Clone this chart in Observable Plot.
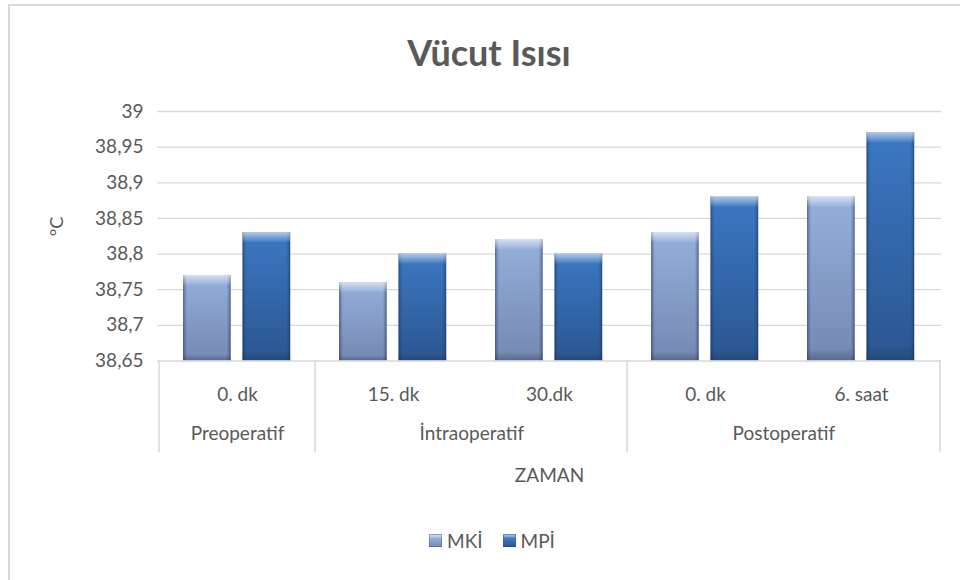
<!DOCTYPE html>
<html><head><meta charset="utf-8">
<script src="https://cdn.jsdelivr.net/npm/d3@7"></script>
<script src="https://cdn.jsdelivr.net/npm/@observablehq/plot@0.6"></script>
<style>
html,body{margin:0;padding:0;background:#fff;width:960px;height:580px;overflow:hidden;font-family:Lato,"Open Sans",sans-serif;}
#frame{position:absolute;left:8px;top:4px;width:1000px;height:620px;border:2px solid #d9d9d9;box-sizing:border-box;}
#title{position:absolute;left:0;width:978px;top:34px;text-align:center;font:700 36px/36px Lato,sans-serif;color:#595959;}
#chart{position:absolute;left:0;top:90px;}
#legend{position:absolute;left:429px;top:531px;display:flex;align-items:center;font:400 19px/19px Lato,sans-serif;color:#595959;}
#legend .item{display:flex;align-items:center;margin-right:20px;}
#legend .sw{width:13px;height:13px;margin-right:5px;box-shadow:inset 0 0 0 1px rgba(30,50,80,0.35), inset 0 3px 2px rgba(255,255,255,0.45);}
</style></head><body>
<div id="frame"></div>
<div id="title">Vücut Isısı</div>
<div id="chart"></div>
<div id="legend"></div>
<script>
// ---- data ----
const timeLabels = ["0. dk", "15. dk", "30.dk", "0. dk", "6. saat"];
const phaseOf = ["Preoperatif", "İntraoperatif", "İntraoperatif", "Postoperatif", "Postoperatif"];
const series = ["MKİ", "MPİ"];
const mki = [38.77, 38.76, 38.82, 38.83, 38.88];
const mpi = [38.83, 38.80, 38.80, 38.88, 38.97];
const yTicks = [38.65, 38.7, 38.75, 38.8, 38.85, 38.9, 38.95, 39];
const yLabel = "°C";
const xLabel = "ZAMAN";

// ---- build ----
const values = [mki, mpi];
const idx = timeLabels.map((_, i) => i);
const rows = series.flatMap((s, si) => values[si].map((v, i) => ({i, s, v})));
const yMin = yTicks[0], yMax = yTicks[yTicks.length - 1];

const W = 960, H = 400, ML = 157, MR = 19, MT = 21, MB = 129.5;
const bw = (W - ML - MR) / idx.length;
const outer = 24, barW = 48.5, gap = 11;
const insets = [
  {insetLeft: outer, insetRight: bw - outer - barW},
  {insetLeft: outer + barW + gap, insetRight: bw - outer - 2 * barW - gap}
];
const frameH = H - MT - MB;
const fmt = d => String(Math.round(d * 100) / 100).replace(".", ",");

// phase groups
const groups = [];
idx.forEach(i => {
  const g = groups[groups.length - 1];
  if (g && g.name === phaseOf[i]) g.last = i; else groups.push({name: phaseOf[i], first: i, last: i});
});
const sepStarts = groups.map(g => g.first);
const lastIdx = idx[idx.length - 1];

const gridColor = "#d9d9d9";
const marks = [
  Plot.ruleY(yTicks.filter(t => t !== yMin), {stroke: gridColor, strokeWidth: 1.3}),
  ...series.flatMap((s, si) => {
    const d = rows.filter(r => r.s === s);
    return [
      Plot.barY(d, {x: "i", y1: () => yMin, y2: "v", fill: `url(#g${si})`, ...insets[si]}),
      Plot.barY(d, {x: "i", y1: () => yMin, y2: "v", fill: "url(#gside)", ...insets[si]}),
      Plot.barY(d, {x: "i", y1: () => yMin, y2: "v", fill: "url(#gbot)", ...insets[si]}),
      Plot.barY(d, {x: "i", y1: "v", y2: "v", fill: "url(#gtop)", ...insets[si], insetBottom: -10})
    ];
  }),
  Plot.ruleY([yMin], {stroke: gridColor, strokeWidth: 1.5}),
  Plot.ruleX(sepStarts, {x: d => d, dx: -bw / 2, insetTop: frameH, insetBottom: -92, stroke: gridColor, strokeWidth: 1.5}),
  Plot.ruleX([lastIdx], {x: d => d, dx: bw / 2, insetTop: frameH, insetBottom: -92, stroke: gridColor, strokeWidth: 1.5}),
  ...groups.map(g => Plot.text([g.name], {x: () => g.first, dx: (g.last - g.first) * bw / 2, text: d => d,
      frameAnchor: "bottom", dy: 73, lineAnchor: "middle", fill: "#595959", fontSize: 19})),
  Plot.text([xLabel], {text: d => d, frameAnchor: "bottom", dy: 115, lineAnchor: "middle", fill: "#595959", fontSize: 19}),
  Plot.text([yLabel], {text: d => d, frameAnchor: "left", dx: -100, rotate: -90, lineAnchor: "middle", fill: "#595959", fontSize: 18})
];

const chart = Plot.plot({
  width: W, height: H,
  marginLeft: ML, marginRight: MR, marginTop: MT, marginBottom: MB,
  style: {fontFamily: "Lato, sans-serif", fontSize: "19px", color: "#595959", background: "transparent", overflow: "visible"},
  x: {type: "band", domain: idx, padding: 0, tickSize: 0, tickPadding: 26, tickFormat: i => timeLabels[i], label: null},
  y: {domain: [yMin, yMax], ticks: yTicks, tickSize: 0, tickPadding: 14, tickFormat: fmt, label: null},
  marks
});

chart.insertAdjacentHTML("afterbegin", `
<defs>
  <linearGradient id="g0" x1="0" y1="0" x2="0" y2="1">
    <stop offset="0" stop-color="#95afdc"/><stop offset="1" stop-color="#7589b1"/>
  </linearGradient>
  <linearGradient id="g1" x1="0" y1="0" x2="0" y2="1">
    <stop offset="0" stop-color="#3b78c3"/><stop offset="1" stop-color="#2b5690"/>
  </linearGradient>
  <linearGradient id="gside" x1="0" y1="0" x2="1" y2="0">
    <stop offset="0" stop-color="#1b2d48" stop-opacity="0.5"/>
    <stop offset="0.08" stop-color="#1b2d48" stop-opacity="0"/>
    <stop offset="0.92" stop-color="#1b2d48" stop-opacity="0"/>
    <stop offset="1" stop-color="#1b2d48" stop-opacity="0.5"/>
  </linearGradient>
  <linearGradient id="gbot" x1="0" y1="0" x2="0" y2="1">
    <stop offset="0.93" stop-color="#1b2d48" stop-opacity="0"/>
    <stop offset="1" stop-color="#1b2d48" stop-opacity="0.35"/>
  </linearGradient>
  <linearGradient id="gtop" x1="0" y1="0" x2="0" y2="1">
    <stop offset="0" stop-color="#ffffff" stop-opacity="0.6"/>
    <stop offset="1" stop-color="#ffffff" stop-opacity="0.05"/>
  </linearGradient>
</defs>`);

document.getElementById("chart").appendChild(chart);

// legend
const swatchBg = [
  "linear-gradient(#a7c0ea, #7589b1)",
  "linear-gradient(#4a88d6, #2b5690)"
];
const legend = document.getElementById("legend");
series.forEach((s, si) => {
  const item = document.createElement("div");
  item.className = "item";
  const sw = document.createElement("span");
  sw.className = "sw";
  sw.style.background = swatchBg[si];
  const t = document.createElement("span");
  t.textContent = s;
  item.appendChild(sw); item.appendChild(t);
  legend.appendChild(item);
});
</script>
</body></html>
